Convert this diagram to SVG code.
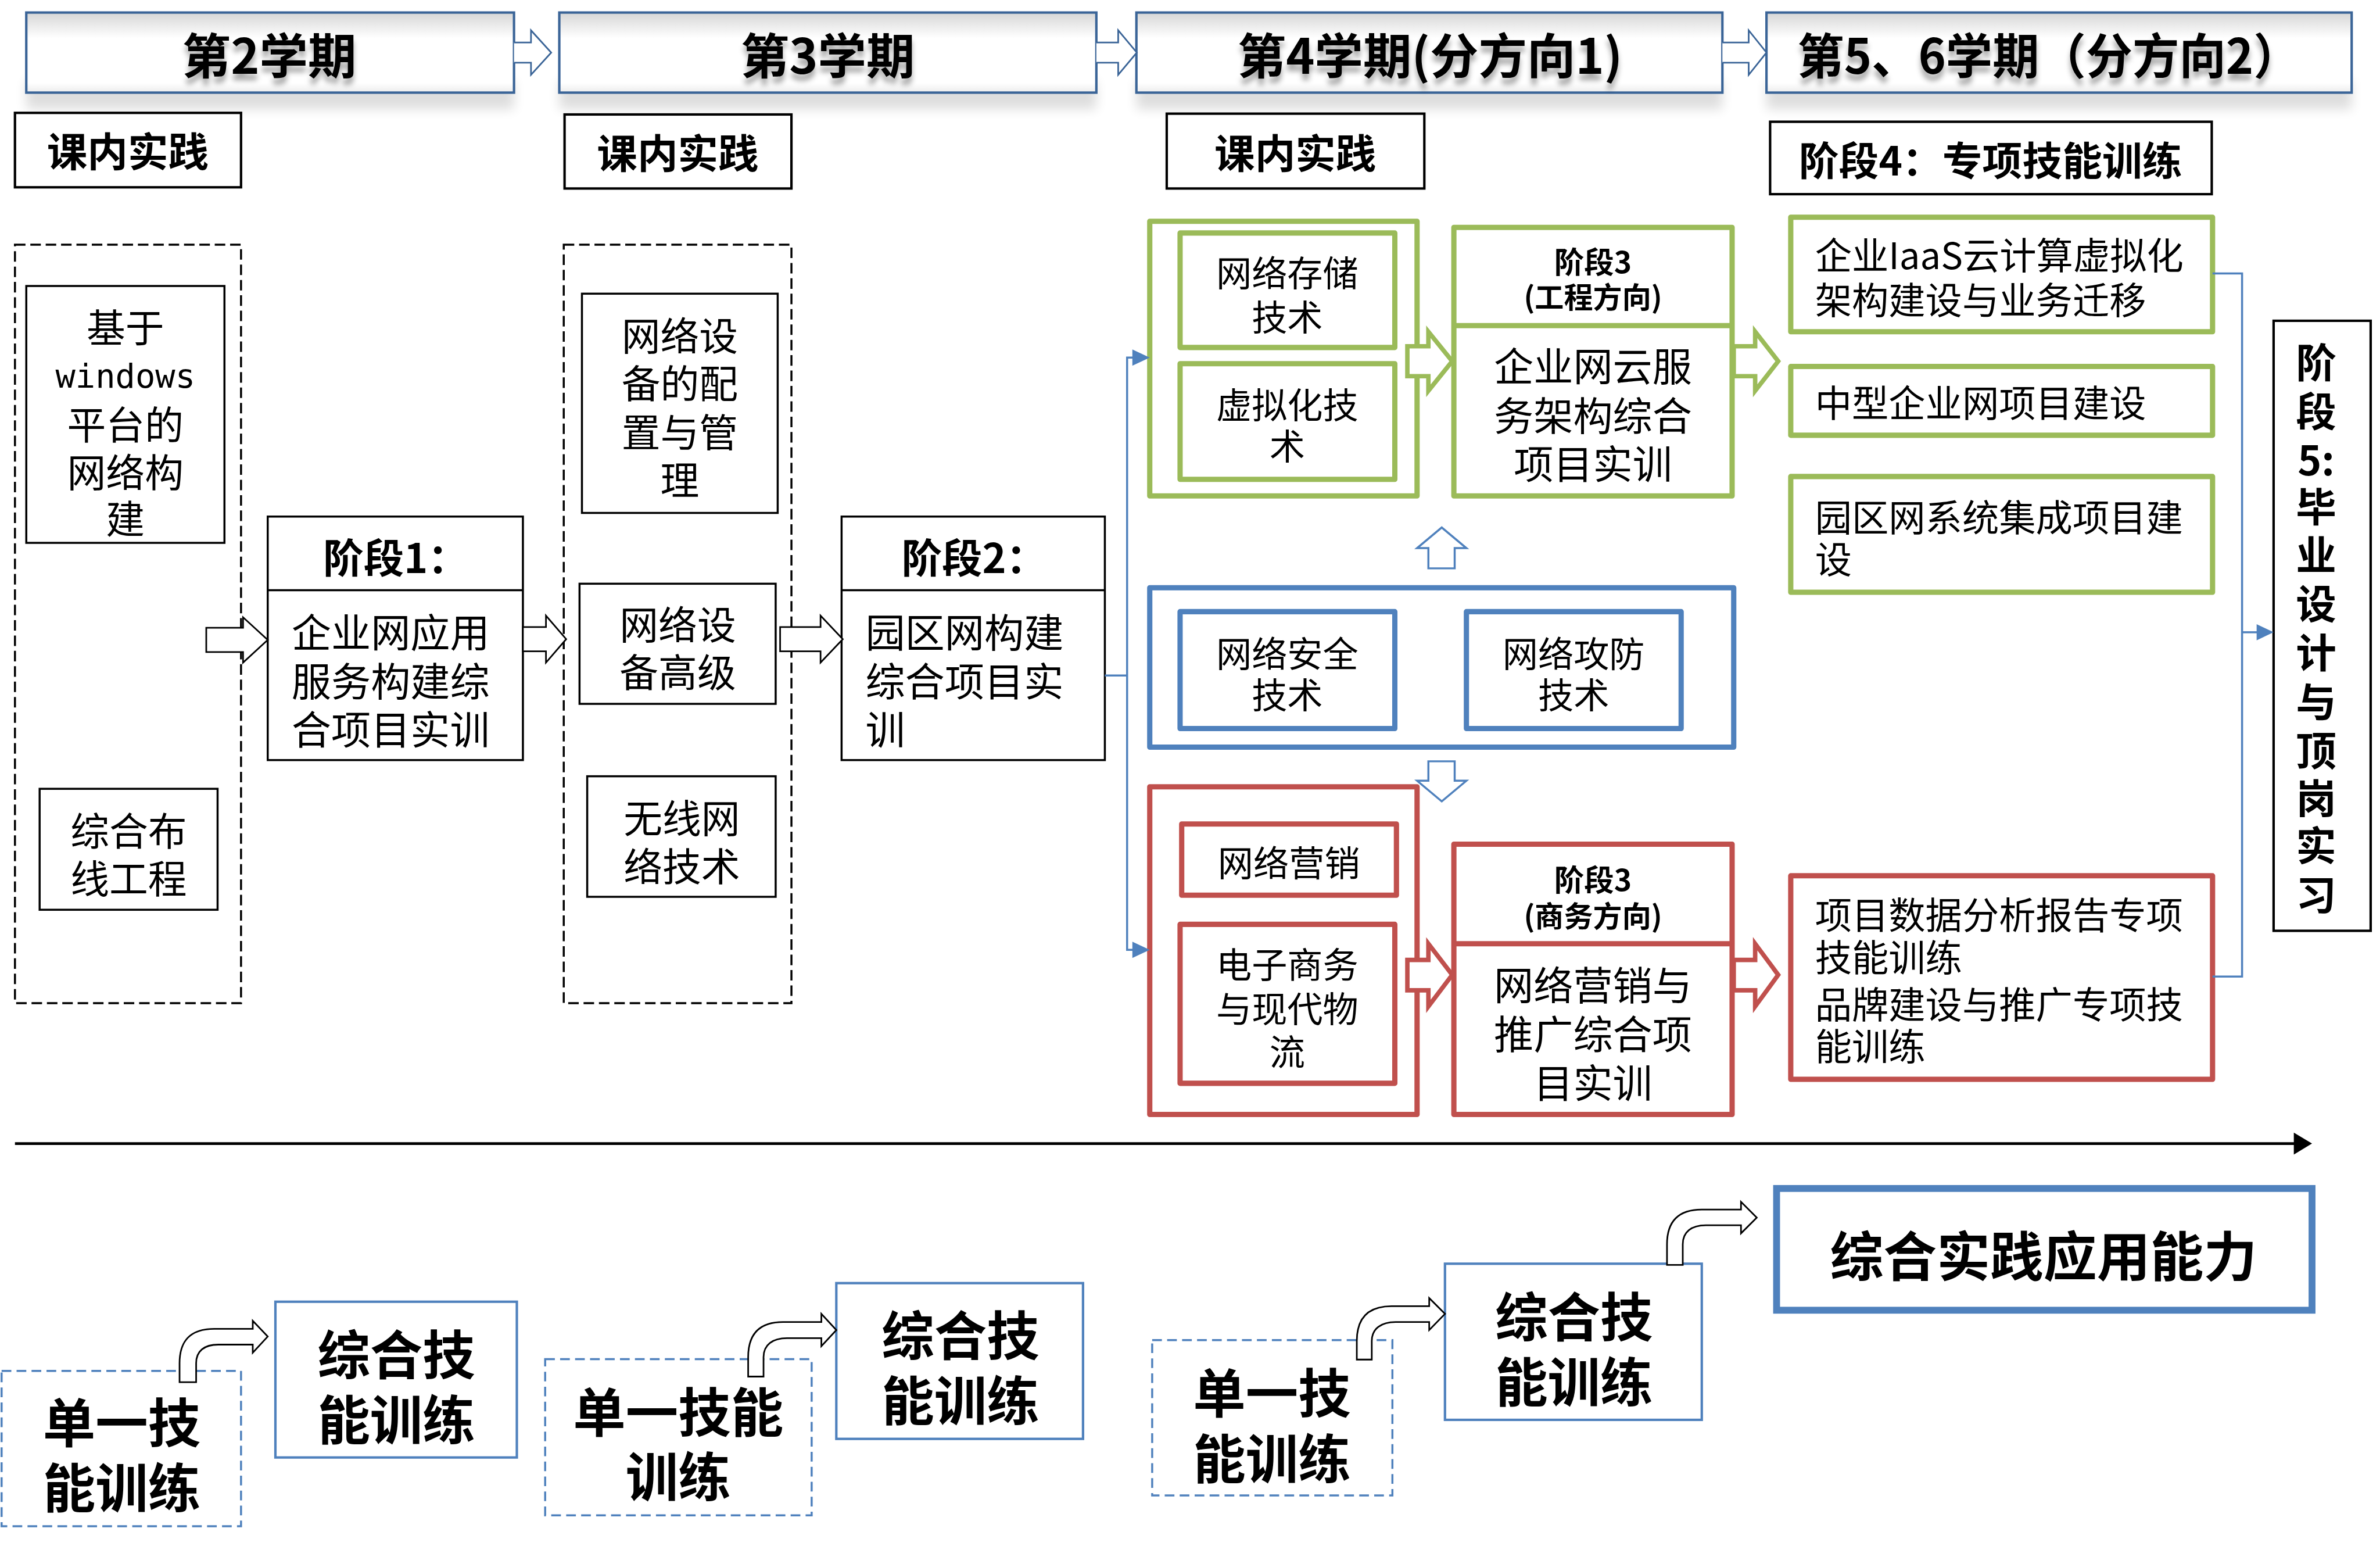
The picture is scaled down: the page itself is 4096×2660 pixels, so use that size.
<svg xmlns="http://www.w3.org/2000/svg" width="4096" height="2660" viewBox="0 0 4096 2660">
<defs>
<style>
text{font-family:"Noto Sans CJK SC","Noto Sans",sans-serif;fill:#000;dominant-baseline:central}
.c{text-anchor:middle}
.b{font-weight:700}
.hd{font-size:120px;font-weight:700;text-anchor:middle}
.hbox{fill:url(#hg);stroke:#3A6497;stroke-width:6}
.harr{fill:#fff;stroke:#3A6497;stroke-width:4}
.kb{fill:#fff;stroke:#000;stroke-width:6}
.blk{fill:#fff;stroke:#000;stroke-width:5}
.dash{fill:none;stroke:#000;stroke-width:5;stroke-dasharray:26 12}
.g{fill:#fff;stroke:#9BBB59;stroke-width:13;stroke-linejoin:round}
.bl{fill:#fff;stroke:#4F81BD;stroke-width:13;stroke-linejoin:round}
.r{fill:#fff;stroke:#C0504D;stroke-width:13;stroke-linejoin:round}
.ga{fill:#fff;stroke:#9BBB59;stroke-width:11}
.ra{fill:#fff;stroke:#C0504D;stroke-width:11}
.ba{fill:#fff;stroke:#4F81BD;stroke-width:5}
.ka{fill:#fff;stroke:#000;stroke-width:4}
.con{fill:none;stroke:#4F81BD;stroke-width:5}
.tip{fill:#4F81BD}
.bd{fill:#fff;stroke:#4F81BD;stroke-width:5;stroke-dasharray:24 13}
.bs{fill:#fff;stroke:#4F81BD;stroke-width:6}
.t96{font-size:96px}
.t88{font-size:88px}
.t91{font-size:91px}
.t98{font-size:98px}
.t130{font-size:130px;font-weight:700}
</style>
<linearGradient id="hg" x1="0" y1="0" x2="0" y2="1">
<stop offset="0" stop-color="#d6d6d6"/>
<stop offset="0.32" stop-color="#ffffff"/>
<stop offset="0.88" stop-color="#ffffff"/>
<stop offset="1" stop-color="#ececec"/>
</linearGradient>
<filter id="bs" x="-10%" y="-50%" width="120%" height="200%"><feGaussianBlur stdDeviation="14"/></filter>
<filter id="ts" x="-10%" y="-30%" width="120%" height="180%"><feDropShadow dx="0" dy="16" stdDeviation="7" flood-color="#000" flood-opacity="0.35"/></filter>
</defs>
<rect width="4096" height="2660" fill="#fff"/>
<g transform="scale(0.696)">

<g fill="#000" opacity="0.13" filter="url(#bs)">
<rect x="65" y="200" width="1206" height="70"/>
<rect x="1383" y="200" width="1328" height="70"/>
<rect x="2810" y="200" width="1449" height="70"/>
<rect x="4368" y="200" width="1447" height="70"/>
</g>

<g id="header1"><rect class="hbox" x="65" y="31" width="1206" height="198"/><text class="hd" x="666" y="130" filter="url(#ts)">第2学期</text></g>
<g id="header2"><rect class="hbox" x="1383" y="31" width="1328" height="198"/><text class="hd" x="2047" y="130" filter="url(#ts)">第3学期</text></g>
<g id="header3"><rect class="hbox" x="2810" y="31" width="1449" height="198"/><text class="hd" x="3536" y="130" filter="url(#ts)">第4学期(分方向1)</text></g>
<g id="header4"><rect class="hbox" x="4368" y="31" width="1447" height="198"/><text class="hd" x="5066" y="130" filter="url(#ts)" textLength="1243" lengthAdjust="spacingAndGlyphs">第5、6学期（分方向2）</text></g>

<g id="kn1"><rect class="kb" x="37" y="279" width="559" height="184"/><text class="c b" x="316" y="369" font-size="100">课内实践</text></g>
<g id="kn2"><rect class="kb" x="1396" y="283" width="561" height="183"/><text class="c b" x="1676" y="373" font-size="100">课内实践</text></g>
<g id="kn3"><rect class="kb" x="2885" y="281" width="637" height="185"/><text class="c b" x="3203" y="373" font-size="100">课内实践</text></g>
<g id="stage4"><rect class="kb" x="4377" y="301" width="1092" height="179"/><text class="c b" x="4922" y="392" font-size="98" textLength="948" lengthAdjust="spacingAndGlyphs">阶段4：专项技能训练</text></g>

<g id="group2"><rect class="dash" x="37" y="605" width="559" height="1875"/></g>
<g id="win"><rect class="blk" x="65" y="707" width="490" height="635"/>
<text class="c t96"><tspan x="310" y="805">基于</tspan><tspan x="310" y="929" font-size="82" style="font-family:'DejaVu Sans Mono','Liberation Mono',monospace">windows</tspan><tspan x="310" y="1045">平台的</tspan><tspan x="310" y="1163">网络构</tspan><tspan x="310" y="1277">建</tspan></text></g>
<g id="cabling"><rect class="blk" x="98" y="1950" width="440" height="299"/>
<text class="c t96"><tspan x="318" y="2049">综合布</tspan><tspan x="318" y="2167">线工程</tspan></text></g>

<g id="stage1"><rect class="blk" x="662" y="1277" width="631" height="602"/><line x1="662" y1="1459" x2="1293" y2="1459" stroke="#000" stroke-width="5"/>
<text class="b" x="799" y="1373" font-size="100">阶段1：</text>
<text class="t98"><tspan x="721" y="1558">企业网应用</tspan><tspan x="721" y="1678">服务构建综</tspan><tspan x="721" y="1797">合项目实训</tspan></text></g>

<g id="group3"><rect class="dash" x="1394" y="605" width="563" height="1875"/></g>
<g id="devcfg"><rect class="blk" x="1439" y="726" width="484" height="542"/>
<text class="c t96"><tspan x="1681" y="824">网络设</tspan><tspan x="1681" y="942">备的配</tspan><tspan x="1681" y="1063">置与管</tspan><tspan x="1681" y="1181">理</tspan></text></g>
<g id="devadv"><rect class="blk" x="1433" y="1443" width="485" height="297"/>
<text class="c t96"><tspan x="1676" y="1539">网络设</tspan><tspan x="1676" y="1657">备高级</tspan></text></g>
<g id="wireless"><rect class="blk" x="1452" y="1919" width="466" height="298"/>
<text class="c t96"><tspan x="1686" y="2017">无线网</tspan><tspan x="1686" y="2136">络技术</tspan></text></g>

<g id="stage2"><rect class="blk" x="2081" y="1277" width="651" height="602"/><line x1="2081" y1="1459" x2="2732" y2="1459" stroke="#000" stroke-width="5"/>
<text class="b" x="2229" y="1373" font-size="100">阶段2：</text>
<text class="t98"><tspan x="2140" y="1558">园区网构建</tspan><tspan x="2140" y="1678">综合项目实</tspan><tspan x="2140" y="1797">训</tspan></text></g>

<g id="greenGroup"><rect class="g" x="2843" y="547" width="661" height="679"/></g>
<g id="storage"><rect class="g" x="2918" y="576" width="531" height="283"/>
<text class="c t88"><tspan x="3183" y="669">网络存储</tspan><tspan x="3183" y="779">技术</tspan></text></g>
<g id="virt"><rect class="g" x="2918" y="899" width="531" height="286"/>
<text class="c t88"><tspan x="3183" y="996">虚拟化技</tspan><tspan x="3183" y="1098">术</tspan></text></g>
<g id="stage3eng"><rect class="g" x="3595" y="562" width="688" height="664"/><line x1="3595" y1="805" x2="4283" y2="805" stroke="#9BBB59" stroke-width="13"/>
<text class="c b" font-size="72"><tspan x="3939" y="642" font-size="74">阶段3</tspan><tspan x="3939" y="730">(工程方向)</tspan></text>
<text class="c t98"><tspan x="3939" y="899">企业网云服</tspan><tspan x="3939" y="1021">务架构综合</tspan><tspan x="3939" y="1141">项目实训</tspan></text></g>

<g id="iaas"><rect class="g" x="4428" y="537" width="1043" height="283"/>
<text class="t91"><tspan x="4488" y="625">企业IaaS云计算虚拟化</tspan><tspan x="4488" y="735">架构建设与业务迁移</tspan></text></g>
<g id="mident"><rect class="g" x="4428" y="906" width="1043" height="170"/>
<text class="t91" x="4488" y="991">中型企业网项目建设</text></g>
<g id="campus"><rect class="g" x="4428" y="1178" width="1043" height="286"/>
<text class="t91"><tspan x="4488" y="1273">园区网系统集成项目建</tspan><tspan x="4488" y="1377">设</tspan></text></g>

<g id="blueGroup"><rect class="bl" x="2843" y="1453" width="1444" height="394"/></g>
<g id="security"><rect class="bl" x="2918" y="1512" width="531" height="289"/>
<text class="c t88"><tspan x="3183" y="1610">网络安全</tspan><tspan x="3183" y="1713">技术</tspan></text></g>
<g id="attack"><rect class="bl" x="3626" y="1512" width="531" height="289"/>
<text class="c t88"><tspan x="3891" y="1610">网络攻防</tspan><tspan x="3891" y="1713">技术</tspan></text></g>

<g id="redGroup"><rect class="r" x="2843" y="1945" width="661" height="810"/></g>
<g id="marketing"><rect class="r" x="2922" y="2037" width="531" height="176"/>
<text class="c t88" x="3187" y="2128">网络营销</text></g>
<g id="ecom"><rect class="r" x="2918" y="2285" width="531" height="393"/>
<text class="c t88"><tspan x="3183" y="2380">电子商务</tspan><tspan x="3183" y="2489">与现代物</tspan><tspan x="3183" y="2595">流</tspan></text></g>
<g id="stage3biz"><rect class="r" x="3595" y="2087" width="688" height="668"/><line x1="3595" y1="2333" x2="4283" y2="2333" stroke="#C0504D" stroke-width="13"/>
<text class="c b" font-size="72"><tspan x="3939" y="2169" font-size="74">阶段3</tspan><tspan x="3939" y="2260">(商务方向)</tspan></text>
<text class="c t98"><tspan x="3939" y="2429">网络营销与</tspan><tspan x="3939" y="2551">推广综合项</tspan><tspan x="3939" y="2671">目实训</tspan></text></g>
<g id="bizskill"><rect class="r" x="4428" y="2165" width="1043" height="503"/>
<text class="t91"><tspan x="4488" y="2256">项目数据分析报告专项</tspan><tspan x="4488" y="2360">技能训练</tspan><tspan x="4488" y="2477">品牌建设与推广专项技</tspan><tspan x="4488" y="2580">能训练</tspan></text></g>

<g id="stage5"><rect class="kb" x="5622" y="793" width="240" height="1508"/>
<text class="c b" font-size="100"><tspan x="5727" y="889">阶</tspan><tspan x="5727" y="1010">段</tspan><tspan x="5727" y="1131">5:</tspan><tspan x="5727" y="1245">毕</tspan><tspan x="5727" y="1365">业</tspan><tspan x="5727" y="1486">设</tspan><tspan x="5727" y="1607">计</tspan><tspan x="5727" y="1729">与</tspan><tspan x="5727" y="1849">顶</tspan><tspan x="5727" y="1967">岗</tspan><tspan x="5727" y="2084">实</tspan><tspan x="5727" y="2206">习</tspan></text></g>

<g id="single1"><rect class="bd" x="4" y="3389" width="592" height="384"/>
<text class="c t130"><tspan x="301" y="3508">单一技</tspan><tspan x="301" y="3669">能训练</tspan></text></g>
<g id="comp1"><rect class="bs" x="681" y="3218" width="597" height="385"/>
<text class="c t130"><tspan x="980" y="3340">综合技</tspan><tspan x="980" y="3501">能训练</tspan></text></g>
<g id="single2"><rect class="bd" x="1348" y="3360" width="659" height="386"/>
<text class="c t130"><tspan x="1677" y="3483">单一技能</tspan><tspan x="1677" y="3642">训练</tspan></text></g>
<g id="comp2"><rect class="bs" x="2068" y="3172" width="610" height="385"/>
<text class="c t130"><tspan x="2375" y="3293">综合技</tspan><tspan x="2375" y="3454">能训练</tspan></text></g>
<g id="single3"><rect class="bd" x="2849" y="3313" width="594" height="384"/>
<text class="c t130"><tspan x="3145" y="3436">单一技</tspan><tspan x="3145" y="3597">能训练</tspan></text></g>
<g id="comp3"><rect class="bs" x="3573" y="3124" width="635" height="386"/>
<text class="c t130"><tspan x="3892" y="3247">综合技</tspan><tspan x="3892" y="3408">能训练</tspan></text></g>
<g id="ability"><rect fill="#fff" stroke="#4F81BD" stroke-width="17" x="4393" y="2938" width="1324" height="301"/>
<text class="c b" x="5053" y="3097" font-size="132">综合实践应用能力</text></g>

<g id="connectors">
<path class="harr" d="M1271,105 L1313,105 L1313,75 L1363,130 L1313,185 L1313,155 L1271,155"/>
<path class="harr" d="M2711,105 L2765,105 L2765,75 L2811,130 L2765,185 L2765,155 L2711,155"/>
<path class="harr" d="M4259,105 L4324,105 L4324,75 L4368,130 L4324,185 L4324,155 L4259,155"/>

<path class="ka" d="M510,1552 L601,1552 L601,1526 L662,1582 L601,1638 L601,1612 L510,1612 Z"/>
<path class="ka" d="M1293,1550 L1350,1550 L1350,1522 L1400,1580 L1350,1638 L1350,1610 L1293,1610 Z"/>
<path class="ka" d="M1929,1550 L2029,1550 L2029,1522 L2084,1580 L2029,1638 L2029,1610 L1929,1610 Z"/>

<polyline class="con" points="2732,1670 2787,1670"/>
<polyline class="con" points="2805,884 2787,884 2787,2348 2805,2348"/>
<polygon class="tip" points="2800,864 2843,884 2800,904"/>
<polygon class="tip" points="2800,2328 2843,2348 2800,2368"/>

<path class="ga" d="M3480,856 L3532,856 L3532,820 L3591,893 L3532,966 L3532,930 L3480,930 Z"/>
<path class="ga" d="M4287,856 L4340,856 L4340,820 L4397,893 L4340,966 L4340,930 L4287,930 Z"/>
<path class="ra" d="M3480,2373 L3532,2373 L3532,2333 L3591,2410 L3532,2488 L3532,2448 L3480,2448 Z"/>
<path class="ra" d="M4287,2373 L4340,2373 L4340,2333 L4397,2410 L4340,2488 L4340,2448 L4287,2448 Z"/>

<path class="ba" d="M3532,1405 L3532,1355 L3504,1355 L3565,1304 L3626,1355 L3597,1355 L3597,1405 Z"/>
<path class="ba" d="M3532,1882 L3532,1930 L3504,1930 L3565,1981 L3626,1930 L3597,1930 L3597,1882 Z"/>

<polyline class="con" points="5471,676 5544,676 5544,2414 5471,2414"/>
<polyline class="con" points="5544,1563 5585,1563"/>
<polygon class="tip" points="5580,1543 5622,1563 5580,1583"/>

<line x1="37" y1="2827" x2="5680" y2="2827" stroke="#000" stroke-width="7"/>
<polygon fill="#000" points="5672,2800 5717,2827 5672,2854"/>

<path class="ka" d="M444,3417 L444,3370 C444,3315 470,3285 530,3285 L625,3285 L625,3265 L662,3304 L625,3344 L625,3324 L540,3324 C505,3324 485,3340 485,3370 L485,3417 Z"/>
<path class="ka" d="M1850,3403 L1850,3355 C1850,3300 1876,3268 1936,3268 L2031,3268 L2031,3248 L2068,3288 L2031,3328 L2031,3308 L1946,3308 C1911,3308 1888,3324 1888,3355 L1888,3403 Z"/>
<path class="ka" d="M3355,3361 L3355,3315 C3355,3260 3381,3229 3441,3229 L3534,3229 L3534,3209 L3573,3248 L3534,3288 L3534,3268 L3451,3268 C3416,3268 3392,3284 3392,3315 L3392,3361 Z"/>
<path class="ka" d="M4122,3127 L4122,3076 C4122,3021 4148,2990 4208,2990 L4305,2990 L4305,2971 L4344,3010 L4305,3049 L4305,3029 L4218,3029 C4183,3029 4161,3045 4161,3076 L4161,3127 Z"/>
</g>
</g>
</svg>
